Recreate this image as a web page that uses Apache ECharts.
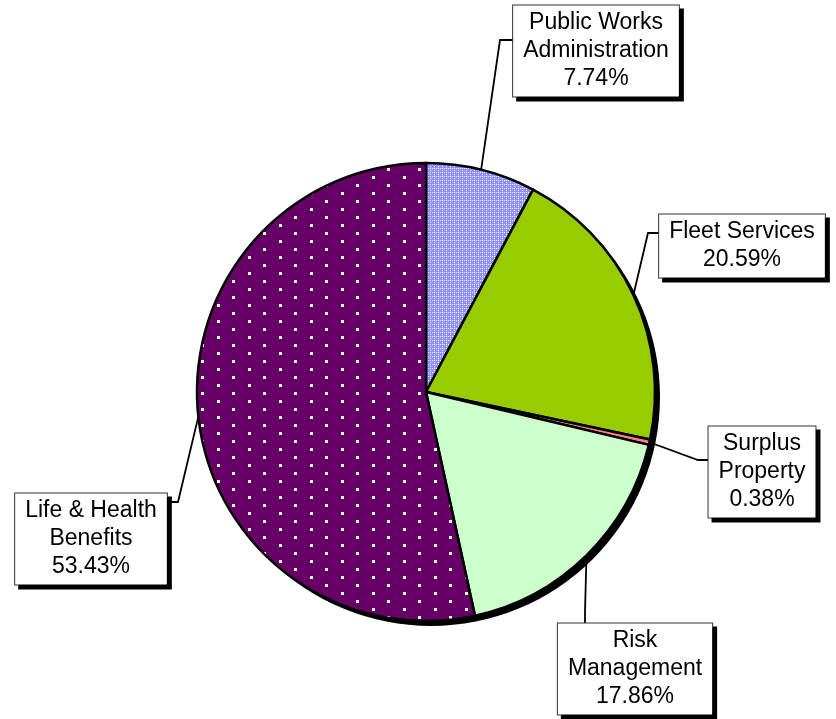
<!DOCTYPE html>
<html>
<head>
<meta charset="utf-8">
<title>Department Budget Share</title>
<script src="https://cdn.jsdelivr.net/npm/echarts@6/dist/echarts.min.js"></script>
<style>
  html, body { margin: 0; padding: 0; background: #ffffff; }
  #chart { width: 836px; height: 719px; }
</style>
</head>
<body>
<div id="chart"></div>
<script>
// Division names and their share of the budget (percent)
const categories = [
  'Public Works\nAdministration',
  'Fleet Services',
  'Surplus\nProperty',
  'Risk\nManagement',
  'Life & Health\nBenefits'
];
const shares = [7.74, 20.59, 0.38, 17.86, 53.43];

// Callout box centres and leader-line elbows, per slice
const boxCenters = [[596, 51], [742, 246], [762, 472], [635, 669], [91, 539]];
const lineElbows = [
  [[500, 40], [515, 40]],
  [[648, 233], [660, 233]],
  [[698, 460], [709, 460]],
  [[585, 612], [585, 625]],
  [[178, 502], [168, 502]]
];

function makePattern(w, h, base, dots) {
  const c = document.createElement('canvas');
  c.width = w; c.height = h;
  const g = c.getContext('2d');
  g.fillStyle = base;
  g.fillRect(0, 0, w, h);
  g.fillStyle = '#ffffff';
  dots.forEach(d => g.fillRect(d[0], d[1], d[2], d[3]));
  return { image: c, repeat: 'repeat' };
}

// lavender dither
const lavenderDots = makePattern(4, 4, '#8f8fff', [[0, 0, 1, 1], [2, 2, 1, 1], [2, 0, 1, 1]]);
// purple with staggered white dots
const purpleDots = makePattern(31, 16, '#660066', [[0, 0, 3, 3], [15, 8, 3, 3]]);

const sliceColors = [lavenderDots, '#99cc00', '#ff7f7f', '#ccffcc', purpleDots];

const chart = echarts.init(document.getElementById('chart'), null, { renderer: 'canvas' });

const option = {
  animation: false,
  backgroundColor: '#ffffff',
  series: [
    {
      // drop shadow under the pie
      type: 'pie',
      silent: true,
      center: [431, 397],
      radius: 229,
      z: 1,
      label: { show: false },
      labelLine: { show: false },
      itemStyle: { color: '#000000', borderWidth: 0 },
      data: [{ value: 1, name: '' }]
    },
    {
      type: 'pie',
      center: [426, 392],
      radius: 229,
      startAngle: 90,
      clockwise: true,
      z: 2,
      avoidLabelOverlap: false,
      itemStyle: { borderColor: '#000000', borderWidth: 2.5 },
      label: {
        show: true,
        position: 'outer',
        alignTo: 'none',
        formatter: p => p.name + '\n' + p.value.toFixed(2) + '%',
        fontFamily: '"Liberation Sans", Arial, sans-serif',
        fontSize: 23,
        lineHeight: 28,
        color: '#000000',
        align: 'center',
        backgroundColor: '#ffffff',
        borderColor: '#333333',
        borderWidth: 1,
        padding: [4, 10, 3, 10],
        shadowColor: '#000000',
        shadowBlur: 0,
        shadowOffsetX: 4,
        shadowOffsetY: 4
      },
      labelLine: {
        show: true,
        length: 10,
        length2: 10,
        lineStyle: { color: '#000000', width: 1.8 }
      },
      labelLayout: function (params) {
        const i = params.dataIndex;
        const start = params.labelLinePoints ? params.labelLinePoints[0] : null;
        const pts = start ? [start].concat(lineElbows[i]) : undefined;
        return {
          x: boxCenters[i][0],
          y: boxCenters[i][1],
          align: 'center',
          verticalAlign: 'middle',
          labelLinePoints: pts
        };
      },
      data: categories.map((c, i) => ({
        name: c,
        value: shares[i],
        itemStyle: { color: sliceColors[i] }
      }))
    }
  ]
};

chart.setOption(option);
</script>
</body>
</html>
